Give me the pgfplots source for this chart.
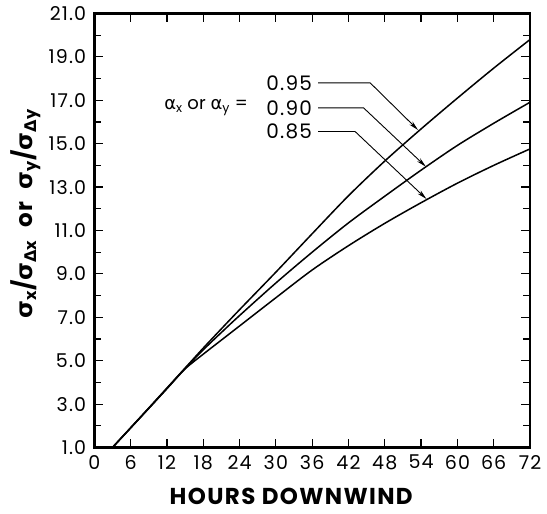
\documentclass[border=0pt]{standalone}
\usepackage{fontspec}
\setmainfont{Poppins}
\newfontfamily\wide[LetterSpace=6]{Poppins}
\newfontfamily\gr{DejaVu Sans}
\usepackage{pgfplots}
\usepackage{pgfplotstable}
\pgfplotsset{compat=1.18}
\usetikzlibrary{arrows.meta}

% sigma ratio vs hours downwind, one column per alpha
\pgfplotstableread{
x   a95   a90   a85
3   1.0   1.0   1.0
6   1.91  1.90  1.90
9   2.82  2.81  2.80
12  3.74  3.72  3.71
15  4.66  4.64  4.62
18  5.58  5.50  5.30
21  6.47  6.30  5.95
24  7.35  7.08  6.60
30  9.08  8.58  7.90
36  10.85 10.00 9.18
42  12.60 11.35 10.30
48  14.20 12.58 11.33
54  15.68 13.78 12.28
60  17.10 14.92 13.18
66  18.48 15.94 14.00
72  19.80 16.91 14.76
}\curves

\begin{document}
\begin{tikzpicture}
\begin{axis}[
    name=ax,
    scale only axis,
    width=435.7pt, height=434pt,
    xmin=0, xmax=72,
    ymin=1, ymax=21,
    xtick={0,6,...,72},
    ytick={1,3,...,21},
    minor y tick num=1,
    tick align=inside,
    major tick length=9pt,
    minor tick length=7pt,
    every tick/.style={black, line width=1.2pt},
    axis line style={line width=2.6pt},
    /pgf/number format/assume math mode=true,
    yticklabel={\pgfmathprintnumber[fixed,fixed zerofill,precision=1]{\tick}},
    ticklabel style={font=\wide\fontsize{19}{19}\selectfont, inner sep=0pt},
    xticklabel style={anchor=north, yshift=-7.5pt},
    yticklabel style={anchor=east, xshift=-8pt},
    xlabel={\bfseries HOURS DOWNWIND},
    xlabel style={at={(axis description cs:0.452,-0.113)}, anchor=center,
        font=\wide\fontsize{23}{24}\selectfont},
    ylabel={\bfseries{\gr σ}\textsubscript{x}/{\gr σ}\textsubscript{{\gr Δ}x}\ \ or\ \ {\gr σ}\textsubscript{y}/{\gr σ}\textsubscript{{\gr Δ}y}},
    ylabel style={at={(axis description cs:-0.158,0.538)}, anchor=center,
        font=\wide\fontsize{23}{23}\selectfont},
]
\addplot[black, line width=1.5pt, smooth] table[x=x, y=a95] {\curves};
\addplot[black, line width=1.5pt, smooth] table[x=x, y=a90] {\curves};
\addplot[black, line width=1.5pt, smooth] table[x=x, y=a85] {\curves};

\node[anchor=east, inner sep=0pt, font=\wide\fontsize{20}{20}\selectfont] at (axis cs:36,17.81) {0.95};
\node[anchor=east, inner sep=0pt, font=\wide\fontsize{20}{20}\selectfont] at (axis cs:36,16.65) {0.90};
\node[anchor=east, inner sep=0pt, font=\wide\fontsize{20}{20}\selectfont] at (axis cs:36,15.58) {0.85};
\node[anchor=east, inner sep=0pt, font=\fontsize{18}{18}\selectfont] at (axis cs:25.4,16.65)
    {{\gr α}\textsubscript{x} or {\gr α}\textsubscript{y} =};

\draw[line width=0.9pt, -{Stealth[length=10pt,width=4.5pt]}]
    (axis cs:37,17.8) -- (axis cs:45.6,17.8) -- (axis cs:53.5,15.63);
\draw[line width=0.9pt, -{Stealth[length=10pt,width=4.5pt]}]
    (axis cs:37,16.65) -- (axis cs:44.5,16.65) -- (axis cs:54.8,13.94);
\draw[line width=0.9pt, -{Stealth[length=10pt,width=4.5pt]}]
    (axis cs:37,15.56) -- (axis cs:43.1,15.56) -- (axis cs:54.9,12.45);
\end{axis}
\pgfresetboundingbox
\path ([shift={(-94.3pt,-65.5pt)}]ax.south west) rectangle ([shift={(17pt,13.5pt)}]ax.north east);
\end{tikzpicture}
\end{document}
